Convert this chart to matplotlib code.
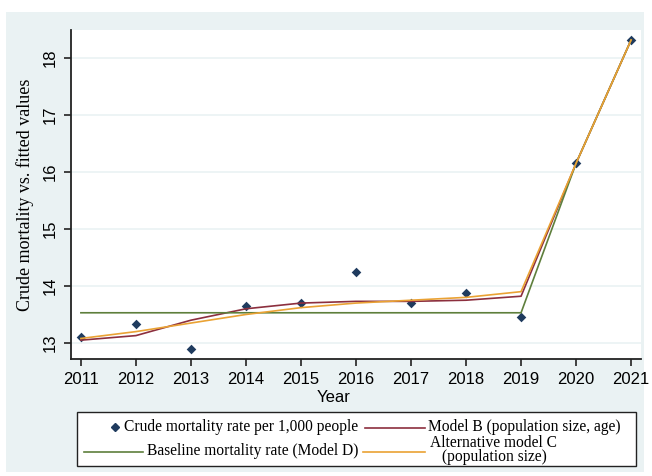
import matplotlib.pyplot as plt
from matplotlib.patches import Rectangle
from matplotlib.lines import Line2D

years = [2011, 2012, 2013, 2014, 2015, 2016, 2017, 2018, 2019, 2020, 2021]
crude = [13.1, 13.33, 12.9, 13.65, 13.7, 14.25, 13.7, 13.88, 13.46, 16.15, 18.31]
model_b = [13.05, 13.13, 13.4, 13.6, 13.7, 13.73, 13.73, 13.75, 13.82, 16.15, 18.31]
baseline_d = [13.53, 13.53, 13.53, 13.53, 13.53, 13.53, 13.53, 13.53, 13.53, 16.15, 18.31]
model_c = [13.08, 13.2, 13.35, 13.5, 13.62, 13.7, 13.75, 13.8, 13.9, 16.15, 18.31]
yticks = [13, 14, 15, 16, 17, 18]

c_navy = '#1f3b5e'
c_maroon = '#8c2f3e'
c_green = '#5e7f3c'
c_orange = '#eaa234'
bg = '#eaf2f3'

W, H = 652, 476
fig = plt.figure(figsize=(W / 100, H / 100), dpi=100, facecolor='white')

def fx(px):
    return px / W

def fy(py):
    return 1 - py / H

# graph region frame
fig.add_artist(Rectangle((fx(6), fy(472)), fx(638), 460 / H, transform=fig.transFigure,
                         facecolor=bg, edgecolor='none', zorder=0))

ax = fig.add_axes([fx(71), fy(359), fx(570), (359 - 30) / H])
ax.set_facecolor('white')
ax.scatter(years, crude, marker='D', s=24, c=c_navy, zorder=2, linewidths=0)
ax.plot(years, model_b, c=c_maroon, lw=1.2, zorder=3)
ax.plot(years, baseline_d, c=c_green, lw=1.2, zorder=3)
ax.plot(years, model_c, c=c_orange, lw=1.2, zorder=3)

ax.set_xlim(2010.82, 2021.18)
ax.set_ylim(12.72, 18.485)
ax.set_xticks(years)
ax.set_yticks(yticks)
ax.grid(True, axis='y', color=bg, lw=1.2, zorder=0)
ax.set_axisbelow(True)
for s in ['top', 'right']:
    ax.spines[s].set_visible(False)
for s in ['left', 'bottom']:
    ax.spines[s].set_color('#222222')
    ax.spines[s].set_linewidth(1.3)
ax.tick_params(axis='both', length=5, width=1.2, color='#222222', pad=4.5,
               labelsize=12)
for lab in ax.get_xticklabels() + ax.get_yticklabels():
    lab.set_family('Liberation Sans')
for lab in ax.get_yticklabels():
    lab.set_rotation(90)
    lab.set_va('center')
ax.set_ylabel('Crude mortality vs. fitted values', family='Liberation Serif',
              fontsize=13, labelpad=6)
fig.text(fx(334), fy(398), 'Year', family='Liberation Sans', fontsize=12,
         ha='center', va='center')

# legend
fig.add_artist(Rectangle((fx(77), fy(466)), fx(559), 54 / H, transform=fig.transFigure,
                         facecolor='white', edgecolor='#222222', lw=1.0, zorder=5))
lf = dict(family='Liberation Serif', fontsize=11.2, zorder=6)
fig.add_artist(Line2D([fx(115)], [fy(427)], marker='D', markersize=4, color=c_navy,
                      lw=0, transform=fig.transFigure, zorder=6))
fig.text(fx(358), fy(427), 'Crude mortality rate per 1,000 people', ha='right', va='center', **lf)
fig.add_artist(Line2D([fx(365), fx(425)], [fy(428), fy(428)], color=c_maroon, lw=1.2,
                      transform=fig.transFigure, zorder=6))
fig.text(fx(428), fy(427), 'Model B (population size, age)', ha='left', va='center', **lf)
fig.add_artist(Line2D([fx(84), fx(143)], [fy(452), fy(452)], color=c_green, lw=1.2,
                      transform=fig.transFigure, zorder=6))
fig.text(fx(358), fy(451), 'Baseline mortality rate (Model D)', ha='right', va='center', **lf)
fig.add_artist(Line2D([fx(363), fx(425)], [fy(452), fy(452)], color=c_orange, lw=1.2,
                      transform=fig.transFigure, zorder=6))
fig.text(fx(494), fy(450), 'Alternative model C\n(population size)', ha='center', va='center',
         linespacing=0.85, **lf)

fig.savefig('out.png', dpi=100)
